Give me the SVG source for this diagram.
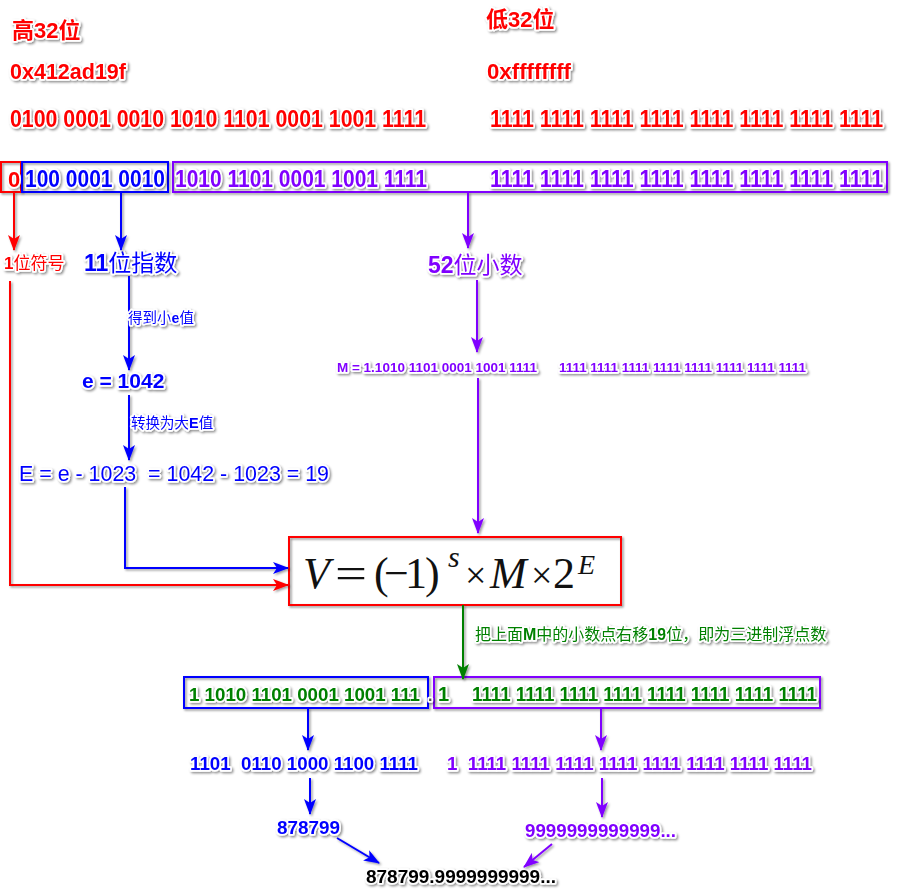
<svg xmlns="http://www.w3.org/2000/svg" width="918" height="892" viewBox="0 0 918 892">
<defs>
<filter id="sh" x="-10%" y="-30%" width="130%" height="180%">
<feDropShadow dx="1.5" dy="1.5" stdDeviation="1.2" flood-color="#000" flood-opacity="0.45"/>
</filter>
<filter id="shl" filterUnits="userSpaceOnUse" x="0" y="0" width="918" height="892">
<feDropShadow dx="1.5" dy="1.5" stdDeviation="1.2" flood-color="#000" flood-opacity="0.4"/>
</filter>
<marker id="aR" viewBox="0 0 16 12" refX="15" refY="6" markerWidth="16" markerHeight="12" markerUnits="userSpaceOnUse" orient="auto"><path d="M0,0 L16,6 L0,12 L4,6 z" fill="#ff0000"/></marker>
<marker id="aB" viewBox="0 0 16 12" refX="15" refY="6" markerWidth="16" markerHeight="12" markerUnits="userSpaceOnUse" orient="auto"><path d="M0,0 L16,6 L0,12 L4,6 z" fill="#0000ff"/></marker>
<marker id="aP" viewBox="0 0 16 12" refX="15" refY="6" markerWidth="16" markerHeight="12" markerUnits="userSpaceOnUse" orient="auto"><path d="M0,0 L16,6 L0,12 L4,6 z" fill="#8000ff"/></marker>
<marker id="aG" viewBox="0 0 16 12" refX="15" refY="6" markerWidth="16" markerHeight="12" markerUnits="userSpaceOnUse" orient="auto"><path d="M0,0 L16,6 L0,12 L4,6 z" fill="#008000"/></marker>
</defs>
<style>
text{font-family:"Liberation Sans","Noto Sans CJK SC",sans-serif;font-weight:bold;stroke:#fff;stroke-width:3.5px;stroke-linejoin:round;paint-order:stroke;filter:url(#sh);white-space:pre}
.r{fill:#ff0000}.b{fill:#0000ff}.p{fill:#8000ff}.g{fill:#008000}.k{fill:#000}
.n{font-weight:normal}
.box{fill:none;stroke-width:2;filter:url(#sh)}
.ln{fill:none;stroke-width:2;filter:url(#shl)}
.fm{font-family:"Liberation Serif","DejaVu Serif",serif;font-weight:normal;fill:#111;stroke:none;filter:none}
.it{font-style:italic}
</style>
<rect width="918" height="892" fill="#fff"/>

<g id="header">
<text class="r" x="12" y="38" font-size="22">高32位</text>
<text class="r" x="486" y="27" font-size="22">低32位</text>
<text class="r" x="10" y="79" font-size="22" textLength="116" lengthAdjust="spacingAndGlyphs">0x412ad19f</text>
<text class="r" x="487" y="79" font-size="22" textLength="84" lengthAdjust="spacingAndGlyphs">0xffffffff</text>
<text class="r" x="10" y="127" font-size="23" textLength="416" lengthAdjust="spacingAndGlyphs">0100 0001 0010 1010 1101 0001 1001 1111</text>
<text class="r" x="490" y="127" font-size="23" textLength="393" lengthAdjust="spacingAndGlyphs">1111 1111 1111 1111 1111 1111 1111 1111</text>
</g>

<g id="sign-bit">
<rect class="box" x="1" y="162" width="20" height="30" stroke="#ff0000"/>
<text class="r" x="8" y="187" font-size="22">0</text>
</g>
<g id="exp-bits">
<rect class="box" x="22" y="162" width="146" height="30" stroke="#0000ff"/>
<text class="b" x="25" y="187" font-size="23" textLength="140" lengthAdjust="spacingAndGlyphs">100 0001 0010</text>
</g>
<g id="frac-bits">
<rect class="box" x="173" y="162" width="714" height="30" stroke="#8000ff"/>
<text class="p" x="175" y="187" font-size="23" textLength="252" lengthAdjust="spacingAndGlyphs">1010 1101 0001 1001 1111</text>
<text class="p" x="490" y="187" font-size="23" textLength="393" lengthAdjust="spacingAndGlyphs">1111 1111 1111 1111 1111 1111 1111 1111</text>
</g>

<g id="sign-label"><text class="r" x="4" y="269" font-size="17">1<tspan class="n">位符号</tspan></text></g>
<g id="exp-label"><text class="b" x="84" y="271" font-size="23">11<tspan class="n">位指数</tspan></text></g>
<g id="frac-label"><text class="p" x="428" y="273" font-size="23">52<tspan class="n">位小数</tspan></text></g>

<g id="e-value"><text class="b" x="82" y="388" font-size="21">e = 1042</text></g>
<g id="E-value"><text class="b n" x="19" y="481" font-size="22" textLength="310" lengthAdjust="spacingAndGlyphs">E = e - 1023  = 1042 - 1023 = 19</text></g>
<g id="M-value">
<text class="p" x="337" y="372" font-size="13" textLength="200" lengthAdjust="spacingAndGlyphs">M = 1.1010 1101 0001 1001 1111</text>
<text class="p" x="559" y="372" font-size="13" textLength="247" lengthAdjust="spacingAndGlyphs">1111 1111 1111 1111 1111 1111 1111 1111</text>
</g>

<g id="formula">
<rect class="box" x="289" y="537" width="332" height="68" stroke="#ff0000" fill="#fff"/>
<text class="fm it" x="303" y="588" font-size="44">V</text>
<text class="fm" x="335" y="588" font-size="44" textLength="32" lengthAdjust="spacingAndGlyphs">=</text>
<text class="fm" x="374 384 405 425" y="588" font-size="44">(−1)<tspan class="it" x="448" y="567" font-size="30">s</tspan></text>
<text class="fm" x="465" y="588" font-size="38">×</text>
<text class="fm it" x="490" y="588" font-size="44">M</text>
<text class="fm" x="531" y="588" font-size="38">×</text>
<text class="fm" x="553" y="588" font-size="44">2<tspan class="it" x="578" y="574" font-size="28">E</tspan></text>
</g>

<g id="binary-int">
<rect class="box" x="184" y="677" width="244" height="31" stroke="#0000ff"/>
<text class="g" x="189" y="701" font-size="18.5" textLength="231" lengthAdjust="spacingAndGlyphs">1 1010 1101 0001 1001 111</text>
</g>
<g id="binary-frac">
<rect class="box" x="434" y="677" width="386" height="31" stroke="#8000ff"/>
<text class="g" x="428" y="701" font-size="20"><tspan fill="#555" font-size="16">.</tspan><tspan x="438">1</tspan></text>
<text class="g" x="472" y="701" font-size="20" textLength="345" lengthAdjust="spacingAndGlyphs">1111 1111 1111 1111 1111 1111 1111 1111</text>
</g>

<g id="int-bits"><text class="b" x="190" y="770" font-size="19" textLength="228" lengthAdjust="spacingAndGlyphs">1101  0110 1000 1100 1111</text></g>
<g id="frac-bits2"><text class="p" x="447" y="770" font-size="19" textLength="365" lengthAdjust="spacingAndGlyphs">1  1111 1111 1111 1111 1111 1111 1111 1111</text></g>
<g id="int-dec"><text class="b" x="277" y="834" font-size="19" textLength="63" lengthAdjust="spacingAndGlyphs">878799</text></g>
<g id="frac-dec"><text class="p" x="525" y="837" font-size="19" textLength="151" lengthAdjust="spacingAndGlyphs">9999999999999...</text></g>
<g id="result"><text class="k" x="366" y="883" font-size="19" textLength="190" lengthAdjust="spacingAndGlyphs">878799.9999999999...</text></g>

<g id="connectors">
<path class="ln" stroke="#ff0000" d="M14,192 V250" marker-end="url(#aR)"/>
<path class="ln" stroke="#0000ff" d="M121,192 V250" marker-end="url(#aB)"/>
<path class="ln" stroke="#8000ff" d="M468,192 V248" marker-end="url(#aP)"/>
<path class="ln" stroke="#ff0000" d="M10,281 V585 H288" marker-end="url(#aR)"/>
<path class="ln" stroke="#0000ff" d="M129,276 V370" marker-end="url(#aB)"/>
<path class="ln" stroke="#0000ff" d="M129,395 V460" marker-end="url(#aB)"/>
<path class="ln" stroke="#0000ff" d="M125,487 V568 H288" marker-end="url(#aB)"/>
<path class="ln" stroke="#8000ff" d="M477,280 V352" marker-end="url(#aP)"/>
<path class="ln" stroke="#8000ff" d="M478,378 V533" marker-end="url(#aP)"/>
<path class="ln" stroke="#008000" d="M463,605 V679" marker-end="url(#aG)"/>
<path class="ln" stroke="#0000ff" d="M308,708 V750" marker-end="url(#aB)"/>
<path class="ln" stroke="#0000ff" d="M310,778 V814" marker-end="url(#aB)"/>
<path class="ln" stroke="#8000ff" d="M601,708 V750" marker-end="url(#aP)"/>
<path class="ln" stroke="#8000ff" d="M602,778 V817" marker-end="url(#aP)"/>
<path class="ln" stroke="#0000ff" d="M337,838 L379,863" marker-end="url(#aB)"/>
<path class="ln" stroke="#8000ff" d="M552,844 L524,867" marker-end="url(#aP)"/>
</g>

<g id="connector-labels">
<text class="b n" x="128" y="323" font-size="14.5">得到小<tspan font-weight="bold">e</tspan>值</text>
<text class="b n" x="131" y="428" font-size="14.5">转换为大<tspan font-weight="bold">E</tspan>值</text>
<text class="g n" x="475" y="640" font-size="16">把上面<tspan font-weight="bold">M</tspan>中的小数点右移<tspan font-weight="bold">19</tspan>位，即为三进制浮点数</text>
</g>
</svg>
